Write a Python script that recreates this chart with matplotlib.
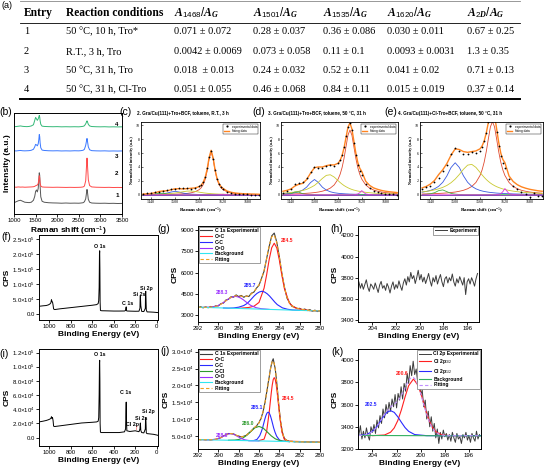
import matplotlib
matplotlib.use("Agg")
import matplotlib.pyplot as plt

plt.rcParams["font.family"] = ["Liberation Sans", "DejaVu Sans"]
plt.rcParams["mathtext.fontset"] = "custom"
plt.rcParams["mathtext.rm"] = "Liberation Sans"
plt.rcParams["mathtext.it"] = "Liberation Serif:italic:bold"
plt.rcParams["mathtext.bf"] = "Liberation Sans:bold"
plt.rcParams["axes.linewidth"] = 0.7
plt.rcParams["legend.fancybox"] = False

# ---------------- (a) table ----------------
table_cols = ["Entry", "Reaction conditions",
              r"$\mathit{A_{1468}/A_{G}}$", r"$\mathit{A_{1501}/A_{G}}$",
              r"$\mathit{A_{1535}/A_{G}}$", r"$\mathit{A_{1620}/A_{G}}$",
              r"$\mathit{A_{2D}/A_{G}}$"]
table_rows = [
    ["1", "50 °C, 10 h, Tro*", "0.071 ± 0.072", "0.28 ± 0.037", "0.36 ± 0.086", "0.030 ± 0.011", "0.67 ± 0.25"],
    ["2", "R.T., 3 h, Tro", "0.0042 ± 0.0069", "0.073 ± 0.058", "0.11 ± 0.1", "0.0093 ± 0.0031", "1.3 ± 0.35"],
    ["3", "50 °C, 31 h, Tro", "0.018  ± 0.013", "0.24 ± 0.032", "0.52 ± 0.11", "0.041 ± 0.02", "0.71 ± 0.13"],
    ["4", "50 °C, 31 h, Cl-Tro", "0.051 ± 0.055", "0.46 ± 0.068", "0.84 ± 0.11", "0.015 ± 0.019", "0.37 ± 0.14"],
]

# ---------------- (b) Raman spectra ----------------
b_shift = [1000, 1050, 1100, 1150, 1200, 1250, 1300, 1350, 1400, 1450,
           1480, 1500, 1520, 1540, 1560, 1575, 1585, 1595, 1605, 1620,
           1650, 1700, 1800, 1900, 2000, 2100, 2200, 2300, 2400, 2500,
           2550, 2600, 2630, 2660, 2680, 2690, 2700, 2720, 2750, 2800,
           2900, 3000, 3100, 3200, 3300, 3400, 3500]
b_entry1 = [11.5, 12.5, 13.5, 14.0, 13.0, 12.0, 11.8, 11.6, 12.0, 14.0,
            18.0, 23.0, 24.5, 22.5, 26.0, 35.0, 42.0, 39.5, 28.0, 17.5,
            13.0, 12.0, 11.5, 11.3, 11.2, 11.0, 11.2, 11.0, 11.1, 11.0,
            11.2, 11.5, 12.5, 15.5, 22.0, 25.0, 22.5, 15.0, 12.0, 11.2,
            11.0, 10.9, 11.0, 10.8, 10.9, 10.7, 10.8]
b_entry2 = [27.5, 27.3, 27.6, 27.4, 27.5, 27.3, 27.4, 27.5, 27.6, 27.8,
            28.2, 28.8, 29.2, 29.5, 31.0, 35.0, 39.0, 37.0, 31.5, 28.5,
            27.6, 27.4, 27.3, 27.2, 27.3, 27.2, 27.1, 27.2, 27.1, 27.2,
            27.3, 27.6, 28.5, 34.0, 50.0, 57.0, 50.5, 35.0, 29.0, 27.6,
            27.3, 27.2, 27.1, 27.2, 27.0, 27.1, 27.0]
b_entry3 = [64.5, 64.3, 64.6, 64.8, 64.5, 64.4, 64.5, 64.6, 65.0, 66.0,
            68.5, 71.0, 70.5, 69.5, 71.5, 76.0, 81.0, 79.0, 72.5, 67.5,
            65.2, 64.8, 64.5, 64.4, 64.5, 64.3, 64.4, 64.3, 64.5, 64.4,
            64.6, 65.0, 66.0, 70.0, 75.0, 77.0, 74.5, 68.5, 65.5, 64.6,
            64.4, 64.3, 64.4, 64.2, 64.3, 64.2, 64.3]
b_entry4 = [89.0, 89.2, 89.5, 89.8, 89.4, 89.2, 89.1, 89.3, 89.8, 91.0,
            95.5, 98.5, 97.0, 95.5, 97.0, 99.0, 100.5, 99.0, 95.0, 91.5,
            89.6, 89.3, 89.1, 89.0, 89.1, 88.9, 89.0, 88.9, 89.0, 88.9,
            89.1, 89.4, 90.0, 92.0, 94.0, 95.0, 94.0, 91.5, 89.8, 89.2,
            89.0, 88.9, 89.0, 88.8, 88.9, 88.8, 88.9]
b_labels = ["1", "2", "3", "4"]
b_label_y = [19, 41, 59, 91]

# ---------------- (c)-(e) Raman fits ----------------
raman_shift = [1420, 1430, 1440, 1450, 1460, 1470, 1480, 1490, 1500, 1510,
               1520, 1530, 1540, 1550, 1560, 1565, 1570, 1575, 1580, 1585,
               1590, 1595, 1600, 1605, 1610, 1615, 1620, 1630, 1640, 1650,
               1660, 1670, 1680, 1690, 1700, 1710]
raman_titles = ["2. Gra/Cu(111)+Tro+BCF, toluene, R.T., 3 h",
                "3. Gra/Cu(111)+Tro+BCF, toluene, 50 °C, 31 h",
                "4. Gra/Cu(111)+Cl-Tro+BCF, toluene, 50 °C, 31 h"]
raman_base = [0.0, 0.0, 0.0]

c_exp = [0.15, 0.2, 0.25, 0.35, 0.45, 0.55, 0.65, 0.8, 0.9, 0.95,
         1.0, 0.95, 0.9, 1.0, 1.2, 1.45, 1.85, 2.6, 3.8, 5.4,
         6.3, 5.2, 3.5, 2.3, 1.5, 1.1, 0.85, 0.45, 0.25, 0.15,
         0.1, 0.05, 0.05, 0.0, 0.0, 0.0]
c_fit = [0.11, 0.14, 0.2, 0.3, 0.47, 0.55, 0.58, 0.72, 0.87, 0.87,
         0.85, 0.88, 0.94, 0.99, 1.17, 1.38, 1.77, 2.46, 3.65, 5.36,
         6.39, 5.31, 3.55, 2.31, 1.58, 1.16, 0.91, 0.54, 0.36, 0.26,
         0.2, 0.16, 0.13, 0.11, 0.1, 0.08]
c_g = [0.026, 0.03, 0.033, 0.038, 0.045, 0.052, 0.062, 0.075, 0.09, 0.115,
       0.15, 0.2, 0.29, 0.44, 0.73, 1.0, 1.44, 2.17, 3.4, 5.14,
       6.2, 5.14, 3.4, 2.17, 1.44, 1.0, 0.73, 0.44, 0.29, 0.2,
       0.15, 0.115, 0.09, 0.075, 0.062, 0.052]
c_1501 = [0.03, 0.04, 0.05, 0.07, 0.1, 0.15, 0.25, 0.4, 0.5, 0.4,
          0.25, 0.15, 0.1, 0.07, 0.05, 0.045, 0.04, 0.035, 0.03, 0.03,
          0.025, 0.025, 0.02, 0.02, 0.02, 0.015, 0.015, 0.01, 0.01, 0.01,
          0.01, 0.01, 0.01, 0.01, 0.01, 0.01]
c_1535 = [0.045, 0.053, 0.063, 0.076, 0.094, 0.118, 0.148, 0.196, 0.256, 0.345,
          0.445, 0.53, 0.546, 0.483, 0.385, 0.336, 0.292, 0.252, 0.22, 0.191,
          0.167, 0.146, 0.129, 0.116, 0.102, 0.093, 0.082, 0.068, 0.057, 0.047,
          0.042, 0.036, 0.03, 0.027, 0.025, 0.021]
c_1468 = [0.01, 0.02, 0.05, 0.12, 0.23, 0.23, 0.12, 0.05, 0.02, 0.01,
          0.01, 0.01, 0.01, 0.01, 0.01, 0.01, 0.01, 0.01, 0.01, 0.01,
          0.01, 0.01, 0.01, 0.01, 0.01, 0.01, 0.01, 0.01, 0.01, 0.01,
          0.01, 0.01, 0.01, 0.01, 0.01, 0.01]
c_1620 = [0, 0, 0, 0, 0, 0, 0, 0, 0, 0,
          0, 0, 0, 0, 0, 0, 0, 0, 0, 0,
          0, 0, 0, 0, 0.02, 0.05, 0.08, 0.02, 0, 0,
          0, 0, 0, 0, 0, 0]

d_exp = [0.3, 0.5, 0.9, 1.5, 1.7, 1.9, 2.4, 3.3, 3.95, 3.85,
         3.8, 4.1, 4.25, 4.2, 4.6, 5.0, 5.7, 6.9, 8.4, 9.8,
         10.3, 9.3, 7.5, 5.7, 4.3, 3.4, 2.9, 1.6, 1.0, 0.6,
         0.35, 0.2, 0.1, 0.05, 0.05, 0.0]
d_fit = [0.51, 0.64, 0.83, 1.25, 1.51, 1.64, 2.18, 3.11, 3.9, 4.0,
         3.99, 4.18, 4.3, 4.29, 4.53, 4.92, 5.63, 6.73, 8.22, 9.71,
         10.3, 9.45, 7.7, 5.98, 4.63, 3.8, 3.35, 1.95, 1.35, 0.99,
         0.79, 0.63, 0.52, 0.44, 0.38, 0.32]
d_g = [0.093, 0.105, 0.12, 0.135, 0.155, 0.18, 0.22, 0.26, 0.32, 0.4,
       0.52, 0.69, 0.96, 1.42, 2.26, 2.94, 3.9, 5.23, 6.91, 8.56,
       9.3, 8.56, 6.91, 5.23, 3.9, 2.94, 2.26, 1.42, 0.96, 0.69,
       0.52, 0.4, 0.32, 0.26, 0.22, 0.18]
d_1501 = [0.13, 0.17, 0.22, 0.3, 0.44, 0.68, 1.1, 1.76, 2.2, 1.76,
          1.1, 0.68, 0.44, 0.3, 0.22, 0.19, 0.17, 0.15, 0.13, 0.12,
          0.1, 0.095, 0.085, 0.08, 0.07, 0.065, 0.06, 0.05, 0.045, 0.04,
          0.035, 0.03, 0.03, 0.025, 0.022, 0.02]
d_1535 = [0.24, 0.28, 0.33, 0.4, 0.5, 0.62, 0.78, 1.04, 1.35, 1.82,
          2.35, 2.79, 2.88, 2.55, 2.03, 1.77, 1.54, 1.33, 1.16, 1.01,
          0.88, 0.77, 0.68, 0.61, 0.54, 0.49, 0.43, 0.36, 0.3, 0.25,
          0.22, 0.19, 0.16, 0.14, 0.13, 0.11]
d_1468 = [0.04, 0.07, 0.15, 0.4, 0.4, 0.15, 0.07, 0.04, 0.02, 0.01,
          0.01, 0.01, 0.01, 0.01, 0.01, 0.01, 0.01, 0.01, 0.01, 0.01,
          0.01, 0.01, 0.01, 0.01, 0.01, 0.01, 0.01, 0.01, 0.01, 0.01,
          0.01, 0.01, 0.01, 0.01, 0.01, 0.01]
d_1620 = [0, 0, 0, 0, 0, 0, 0, 0, 0, 0,
          0, 0, 0, 0, 0, 0, 0, 0, 0, 0,
          0, 0, 0, 0.06, 0.12, 0.3, 0.6, 0.12, 0.04, 0,
          0, 0, 0, 0, 0, 0]

e_exp = [0.8, 1.1, 1.2, 1.8, 2.4, 3.4, 4.3, 5.8, 6.7, 6.3,
         5.8, 5.9, 6.1, 6.0, 6.3, 6.8, 7.7, 8.9, 10.4, 11.5,
         12.0, 11.0, 9.0, 7.0, 5.5, 4.5, 3.9, 2.2, 1.3, 0.8,
         0.4, 0.1, -0.3, 0.3, -0.1, -0.2]
e_fit = [0.99, 1.2, 1.54, 2.06, 2.9, 3.6, 4.5, 5.7, 6.6, 6.5,
         6.2, 6.1, 6.2, 6.3, 6.6, 7.02, 7.73, 8.87, 10.37, 11.82,
         12.34, 11.39, 9.48, 7.55, 6.0, 5.07, 4.62, 2.7, 1.91, 1.45,
         1.15, 0.95, 0.79, 0.68, 0.58, 0.51]
e_g = [0.116, 0.13, 0.15, 0.17, 0.2, 0.23, 0.27, 0.33, 0.4, 0.51,
       0.65, 0.87, 1.2, 1.77, 2.78, 3.58, 4.7, 6.2, 8.02, 9.75,
       10.5, 9.75, 8.02, 6.2, 4.7, 3.58, 2.78, 1.77, 1.2, 0.87,
       0.65, 0.51, 0.4, 0.33, 0.27, 0.23]
e_1501 = [0.38, 0.48, 0.63, 0.86, 1.22, 1.8, 2.72, 3.92, 4.6, 3.92,
          2.72, 1.8, 1.22, 0.86, 0.63, 0.55, 0.48, 0.43, 0.38, 0.34,
          0.31, 0.28, 0.25, 0.23, 0.21, 0.19, 0.18, 0.15, 0.13, 0.115,
          0.1, 0.09, 0.08, 0.07, 0.065, 0.06]
e_1535 = [0.42, 0.49, 0.585, 0.705, 0.86, 1.07, 1.35, 1.74, 2.26, 2.92,
          3.67, 4.26, 4.37, 3.94, 3.22, 2.85, 2.51, 2.2, 1.93, 1.69,
          1.49, 1.32, 1.17, 1.05, 0.94, 0.845, 0.76, 0.63, 0.53, 0.45,
          0.38, 0.33, 0.29, 0.26, 0.23, 0.2]
e_1468 = [0.05, 0.08, 0.15, 0.3, 0.6, 0.7, 0.45, 0.2, 0.1, 0.05,
          0.02, 0.02, 0.02, 0.02, 0.02, 0.02, 0.02, 0.02, 0.02, 0.02,
          0.02, 0.02, 0.02, 0.02, 0.02, 0.02, 0.02, 0.02, 0.02, 0.02,
          0.02, 0.02, 0.02, 0.02, 0.02, 0.02]
e_1620 = [0, 0, 0, 0, 0, 0, 0, 0, 0, 0,
          0, 0, 0, 0, 0, 0, 0, 0, 0, 0,
          0, 0, 0.02, 0.07, 0.15, 0.45, 0.9, 0.15, 0.05, 0,
          0, 0, 0, 0, 0, 0]

# ---------------- (f), (i) XPS survey ----------------
survey_be = [1096, 1060, 1030, 1010, 995, 985, 980, 975, 970, 965,
             960, 950, 900, 850, 800, 750, 700, 650, 600, 560,
             545, 540, 536, 533, 531, 529, 527, 524, 520, 510,
             480, 450, 400, 350, 300, 290, 286, 284, 282, 278,
             250, 200, 165, 156, 154, 152, 148, 140, 120, 106,
             104, 102, 100, 97, 90, 60, 30, 0, -12]
f_cps = [26000, 27500, 28500, 30500, 33500, 38000, 48000, 42000, 40000, 30000,
         17000, 15000, 17500, 19500, 21500, 23500, 25500, 27500, 29500, 31500,
         35000, 45000, 90000, 200000, 212000, 150000, 40000, 12500, 11500, 11000,
         10800, 10500, 10000, 10000, 10200, 12000, 21000, 24000, 13000, 10200,
         9800, 9300, 9500, 20000, 58000, 62000, 28000, 9000, 8200, 19000,
         70000, 76000, 55000, 14000, 7200, 6800, 6200, 5200, 4800]
i_cps = [22000, 23000, 24000, 25000, 26000, 27000, 29500, 27000, 28000, 24000,
         16000, 15500, 16500, 17500, 18500, 19500, 20500, 21000, 21500, 22000,
         23000, 28000, 60000, 105000, 109000, 80000, 20000, 8000, 7000, 7000,
         7000, 7000, 7000, 7000, 8000, 12000, 38000, 50000, 28000, 9500,
         8500, 9500, 8200, 12000, 19000, 20500, 10000, 7000, 6500, 12000,
         26000, 28000, 22000, 6500, 5500, 5000, 4500, 3500, 3000]
f_yticks = [0, 50000, 100000, 150000, 200000, 250000]
f_ylabels = ["0.0", "5.0×10$^4$", "1.0×10$^5$", "1.5×10$^5$", "2.0×10$^5$", "2.5×10$^5$"]
i_yticks = [0, 20000, 40000, 60000, 80000, 100000, 120000]
i_ylabels = ["0.0", "2.0×10$^4$", "4.0×10$^4$", "6.0×10$^4$", "8.0×10$^4$", "1.0×10$^5$", "1.2×10$^5$"]
f_peaks = [("O 1s", 532, 228000), ("C 1s", 275, 34000), ("Si 2s", 162, 67000), ("Si 2p", 100, 86000)]
i_peaks = [("O 1s", 532, 117000), ("C 1s", 285, 64000), ("Cl 2p", 222, 18000),
           ("Si 2s", 142, 27000), ("Si 2p", 80, 37000)]

# ---------------- (g) C 1s, Tro ----------------
g_be = [292.0, 291.75, 291.5, 291.25, 291.0, 290.75, 290.5, 290.25, 290.0, 289.75,
        289.5, 289.25, 289.0, 288.75, 288.5, 288.25, 288.0, 287.75, 287.5, 287.25,
        287.0, 286.75, 286.5, 286.25, 286.0, 285.75, 285.5, 285.25, 285.0, 284.75,
        284.5, 284.25, 284.0, 283.75, 283.5, 283.25, 283.0, 282.75, 282.5, 282.25,
        282.0, 281.75, 281.5, 281.25, 281.0, 280.75, 280.5, 280.25, 280.0]
g_exp = [3520, 3590, 3500, 3575, 3510, 3600, 3545, 3650, 3640, 3800,
         3840, 4060, 4110, 4290, 4260, 4420, 4300, 4380, 4250, 4350,
         4300, 4540, 4620, 4900, 5100, 5600, 6100, 7000, 7850, 8600,
         8800, 8150, 7100, 5950, 4990, 4200, 3880, 3600, 3560, 3440,
         3470, 3360, 3420, 3310, 3380, 3260, 3340, 3240, 3300]
g_fit = [3550, 3544, 3543, 3542, 3548, 3559, 3580, 3612, 3675, 3754,
         3877, 4007, 4143, 4246, 4321, 4359, 4344, 4328, 4316, 4311,
         4358, 4492, 4661, 4867, 5143, 5555, 6157, 6981, 7895, 8533,
         8653, 8128, 7149, 5960, 4958, 4256, 3849, 3637, 3530, 3472,
         3419, 3389, 3361, 3341, 3326, 3310, 3300, 3292, 3285]
g_cc_be = [288, 287, 286.5, 286, 285.5, 285.25, 285, 284.75, 284.5, 284.25,
           284, 283.75, 283.5, 283, 282.5, 282, 281, 280]
g_cc = [3465, 3530, 3615, 3885, 4900, 5840, 6920, 7760, 8080, 7745,
        6895, 5805, 4860, 3815, 3525, 3420, 3302, 3280]
g_c_c_be = [289.5, 289, 288.5, 288, 287.5, 287.2, 286.95, 286.7, 286.45, 286.2,
            285.95, 285.7, 285.45, 285.2, 284.95, 284.7, 284.45, 284.2, 283.7, 283.2,
            282.7, 282]
g_c_c = [3494, 3482, 3496, 3549, 3665, 3798, 3969, 4168, 4365, 4525,
         4633, 4678, 4622, 4502, 4331, 4123, 3913, 3730, 3503, 3403,
         3354, 3325]
g_co_be = [291.5, 291, 290.5, 290, 289.55, 289.3, 289.05, 288.8, 288.55, 288.3,
           288.05, 287.8, 287.55, 287.3, 287.05, 286.8, 286.3, 285.8, 285]
g_co = [3539, 3544, 3576, 3675, 3852, 3982, 4112, 4218, 4288, 4317,
        4277, 4196, 4079, 3937, 3796, 3671, 3516, 3444, 3392]
g_bg_be = [292, 280]
g_bg = [3550, 3280]
g_peaks = [("284.5", 283.2, 8300, "#ff2020"), ("285.7", 286.9, 5100, "#2a2aff"),
           ("288.3", 289.6, 4580, "#9b30ff")]

# ---------------- (h) Cl 2p, Tro ----------------
hk_be = [205.125, 205.0, 204.875, 204.75, 204.625, 204.5, 204.375, 204.25, 204.125, 204.0,
         203.875, 203.75, 203.625, 203.5, 203.375, 203.25, 203.125, 203.0, 202.875, 202.75,
         202.625, 202.5, 202.375, 202.25, 202.125, 202.0, 201.875, 201.75, 201.625, 201.5,
         201.375, 201.25, 201.125, 201.0, 200.875, 200.75, 200.625, 200.5, 200.375, 200.25,
         200.125, 200.0, 199.875, 199.75, 199.625, 199.5, 199.375, 199.25, 199.125, 199.0,
         198.875, 198.75, 198.625, 198.5, 198.375, 198.25, 198.125, 198.0, 197.875, 197.75,
         197.625, 197.5, 197.375, 197.25, 197.125, 197.0, 196.875, 196.75, 196.625, 196.5,
         196.375, 196.25, 196.125, 196.0, 195.875, 195.75, 195.625, 195.5, 195.375, 195.25,
         195.125]
h_cps = [3760, 3700, 3745, 3690, 3735, 3780, 3710, 3670, 3740, 3720,
         3690, 3750, 3705, 3660, 3730, 3765, 3700, 3725, 3680, 3745,
         3710, 3655, 3720, 3760, 3690, 3735, 3700, 3770, 3720, 3680,
         3750, 3790, 3730, 3810, 3760, 3850, 3790, 3820, 3745, 3800,
         3870, 3780, 3830, 3760, 3805, 3745, 3790, 3840, 3770, 3720,
         3800, 3760, 3820, 3740, 3790, 3830, 3760, 3715, 3790, 3810,
         3750, 3800, 3770, 3835, 3760, 3720, 3790, 3750, 3810, 3770,
         3730, 3800, 3640, 3760, 3790, 3740, 3800, 3765, 3720, 3790,
         3840]

# ---------------- (j) C 1s, Cl-Tro ----------------
j_be = [292.0, 291.75, 291.5, 291.25, 291.0, 290.75, 290.5, 290.25, 290.0, 289.75,
        289.5, 289.25, 289.0, 288.75, 288.5, 288.25, 288.0, 287.75, 287.5, 287.25,
        287.0, 286.75, 286.5, 286.25, 286.1, 286.0, 285.9, 285.8, 285.7, 285.6,
        285.5, 285.4, 285.3, 285.2, 285.1, 285.0, 284.9, 284.8, 284.7, 284.6,
        284.5, 284.4, 284.3, 284.2, 284.1, 284.0, 283.9, 283.8, 283.7, 283.6,
        283.5, 283.25, 283.0, 282.75, 282.5, 282.25, 282.0, 281.75, 281.5, 281.25,
        281.0, 280.75, 280.5, 280.25, 280.0]
j_exp = [3950, 3830, 3900, 3810, 3880, 3800, 3920, 3960, 4250, 4450,
         4980, 5280, 5700, 5650, 5600, 5150, 4950, 4700, 4880, 5150,
         5850, 6480, 7350, 7900, 8600, 8850, 9650, 10100, 11200, 12100,
         13700, 15000, 17000, 18650, 20700, 22400, 24500, 25900, 27200, 27900,
         26300, 24900, 22100, 19200, 15600, 12650, 9750, 7900, 6100, 5100,
         4200, 3650, 3350, 3380, 3220, 3300, 3190, 3260, 3150, 3240,
         3120, 3200, 3090, 3160, 3080]
j_fit = [3900, 3884, 3868, 3853, 3844, 3849, 3888, 3990, 4189, 4504,
         4912, 5323, 5625, 5701, 5538, 5220, 4907, 4741, 4829, 5194,
         5794, 6530, 7259, 7984, 8498, 8927, 9530, 10182, 11074, 12182,
         13567, 15116, 16902, 18751, 20543, 22474, 24369, 25976, 27016, 27235,
         26475, 24780, 22234, 19043, 15712, 12530, 9855, 7817, 6204, 5006,
         4293, 3592, 3404, 3322, 3270, 3250, 3234, 3217, 3200, 3184,
         3167, 3150, 3134, 3117, 3100]
j_cc_be = [286, 285.5, 285.25, 285, 284.9, 284.8, 284.7, 284.6, 284.5, 284.4,
           284.3, 284.2, 284.1, 284, 283.9, 283.75, 283.5, 283.25, 283, 282, 280]
j_cc = [3595, 4034, 6285, 11939, 14767, 17595, 20045, 21740, 22300, 21726,
        20019, 17555, 14713, 11872, 9408, 6185, 3900, 3506, 3395, 3328, 3100]
j_c_c_be = [287, 286.5, 286.2, 285.93, 285.77, 285.65, 285.54, 285.43, 285.32, 285.21,
            285.1, 284.99, 284.88, 284.77, 284.66, 284.55, 284.43, 284.27, 284.0, 283.7, 283]
j_c_c = [3567, 3620, 3944, 5045, 6238, 7348, 8631, 9912, 11023, 11790,
         12040, 11775, 10993, 9868, 8571, 7273, 6147, 4933, 3797, 3433, 3300]
j_ccl_be = [289, 288.4, 288, 287.6, 287.2, 286.8, 286.4, 286, 285.6, 285.2,
            284.8, 284.4, 284, 283.6, 283]
j_ccl = [3700, 3746, 3914, 4338, 5171, 6306, 7397, 7800, 7344, 6199,
         5011, 4125, 3647, 3426, 3300]
j_co_be = [291.5, 290.9, 290.55, 290.2, 289.85, 289.5, 289.15, 288.8, 288.45, 288.1,
           287.75, 287.4, 287.05, 286.7, 286]
j_co = [3867, 3843, 3875, 4020, 4357, 4914, 5470, 5687, 5423, 4820,
        4217, 3834, 3640, 3563, 3500]
j_bg_be = [292, 280]
j_bg = [3900, 3100]
j_yticks = [5000, 10000, 15000, 20000, 25000, 30000]
j_ylabels = ["5.0×10$^3$", "1.0×10$^4$", "1.5×10$^4$", "2.0×10$^4$", "2.5×10$^4$", "3.0×10$^4$"]
j_peaks = [("284.5", 283.1, 16000, "#ff2020"), ("285.1", 286.15, 13400, "#2a2aff"),
           ("286.0", 287.1, 8600, "#2e9b2e"), ("288.8", 289.65, 5200, "#9b30ff")]

# ---------------- (k) Cl 2p, Cl-Tro ----------------
k_exp = [3330, 3410, 3290, 3360, 3300, 3390, 3320, 3280, 3400, 3350,
         3420, 3340, 3460, 3390, 3500, 3430, 3560, 3480, 3600, 3520,
         3620, 3540, 3650, 3580, 3690, 3570, 3700, 3640, 3760, 3650,
         3790, 3720, 3880, 3790, 3950, 3860, 3990, 3870, 3920, 3800,
         3840, 3690, 3730, 3580, 3640, 3470, 3540, 3400, 3490, 3360,
         3430, 3300, 3380, 3250, 3350, 3290, 3370, 3310, 3340, 3280,
         3330, 3270, 3350, 3300, 3260, 3340, 3290, 3310, 3250, 3330,
         3300, 3350, 3280, 3320, 3260, 3340, 3300, 3270, 3360, 3290,
         3330]
k_fit = [3321, 3322, 3323, 3324, 3327, 3330, 3334, 3341, 3349, 3359,
         3371, 3386, 3404, 3424, 3445, 3467, 3490, 3511, 3531, 3549,
         3565, 3578, 3589, 3599, 3609, 3622, 3636, 3655, 3677, 3704,
         3732, 3762, 3791, 3816, 3834, 3844, 3844, 3834, 3812, 3781,
         3742, 3698, 3649, 3601, 3554, 3510, 3470, 3436, 3408, 3385,
         3366, 3353, 3342, 3335, 3330, 3326, 3324, 3322, 3321, 3320,
         3320, 3320, 3320, 3320, 3320, 3320, 3320, 3320, 3320, 3320,
         3320, 3320, 3320, 3320, 3320, 3320, 3320, 3320, 3320, 3320,
         3320]
k_32_be = [204, 203, 202.5, 202.2, 201.9, 201.6, 201.3, 201, 200.6, 200.2,
           199.9, 199.6, 199.3, 199, 198.7, 198.2, 197.5, 196, 195.1]
k_32 = [3320, 3326, 3351, 3389, 3456, 3553, 3668, 3770, 3830, 3770,
        3668, 3553, 3456, 3389, 3351, 3326, 3320, 3320, 3320]
k_12_be = [205.2, 204.5, 204, 203.7, 203.4, 203.1, 202.8, 202.5, 202.2, 201.9,
           201.6, 201.3, 201, 200.5, 199.5, 195]
k_12 = [3322, 3330, 3359, 3393, 3440, 3490, 3530, 3545, 3530, 3490,
        3440, 3393, 3359, 3330, 3320, 3320]
k_bg_be = [205.2, 195.0]
k_bg = [3322, 3318]
k_peaks = [("200.6", 201.5, 3880, "#ff2020"), ("202.5", 204.1, 3600, "#2a2aff")]

# ---------------- colours ----------------
C_EXP = "#3c3c3c"
C_RED = "#ff2020"
C_BLUE = "#2a2aff"
C_PURPLE = "#9b30ff"
C_CYAN = "#30e6f0"
C_ORANGE = "#f0a020"
C_GREEN = "#2e9b2e"

W, H = 546, 469
fig = plt.figure(figsize=(W / 100, H / 100), dpi=100)


def px_axes(l, t, r, b):
    return fig.add_axes([l / W, 1 - b / H, (r - l) / W, (b - t) / H])


def tidy(ax, size=4.3, direction="out"):
    ax.tick_params(direction=direction, length=2, width=0.6, labelsize=size, pad=1)
    for s in ax.spines.values():
        s.set_linewidth(0.7)


# ---- (b) ----
ax = px_axes(14, 113, 122, 214)
for ys, col in zip([b_entry1, b_entry2, b_entry3, b_entry4],
                   ["#555555", "#ff4848", "#3a78ff", "#33b877"]):
    ax.plot(b_shift, ys, color=col, lw=0.7)
for lab, yy in zip(b_labels, b_label_y):
    ax.text(3380, yy, lab, fontsize=4.5, fontweight="bold", ha="center", va="center")
ax.set_xlim(1000, 3500)
ax.set_ylim(0, 103)
ax.set_yticks([])
ax.set_xticks([1000, 1500, 2000, 2500, 3000, 3500])
tidy(ax, 4.3)
ax.set_xlabel("Raman shift (cm$^{-1}$)", fontsize=6, fontweight="bold", labelpad=1)
ax.set_ylabel("Intensity (a.u.)", fontsize=6, fontweight="bold", labelpad=2)

# ---- (c)-(e) ----
raman_sets = [
    ((141, 122, 260, 199), c_exp, c_fit, c_g, c_1501, c_1535, c_1468, c_1620),
    ((281, 122, 398, 199), d_exp, d_fit, d_g, d_1501, d_1535, d_1468, d_1620),
    ((420, 122, 543, 199), e_exp, e_fit, e_g, e_1501, e_1535, e_1468, e_1620),
]
for n, (rect, ex, ft, gg, b1, b2, b3, b4) in enumerate(raman_sets):
    ax = px_axes(*rect)
    ax.plot(raman_shift, gg, color="#e04a30", lw=0.6)
    ax.plot(raman_shift, b1, color="#3a5ae0", lw=0.6)
    ax.plot(raman_shift, b2, color="#c9c930", lw=0.6)
    ax.plot(raman_shift, b3, color="#44b044", lw=0.6)
    ax.plot(raman_shift, b4, color="#e030e0", lw=0.6)
    ax.plot([raman_shift[0], raman_shift[-1]], [raman_base[n], raman_base[n]],
            color="#7a30b0", lw=0.6)
    l_fit, = ax.plot(raman_shift, ft, color="#ff8420", lw=1.0)
    l_exp, = ax.plot(raman_shift, ex, "o", ms=1.3, mew=0, color="black")
    ax.set_xlim(1415, 1712)
    ax.set_ylim(-0.6, 10.45)
    ax.set_xticks([1440, 1500, 1560, 1620, 1680])
    ax.set_xticklabels(["1440", "1500", "1560", "1620", "1680"], fontfamily="Liberation Serif")
    ax.set_yticks([0, 2, 4, 6, 8, 10])
    ax.set_yticklabels(["0", "2", "4", "6", "8", "10"], fontfamily="Liberation Serif")
    ax.tick_params(direction="in", length=1.5, width=0.4, labelsize=3, pad=1)
    for s in ax.spines.values():
        s.set_linewidth(0.6)
    ax.set_xlabel("Raman shift (cm$^{-1}$)", fontsize=3.6, fontweight="bold",
                  fontfamily="Liberation Serif", labelpad=1)
    ax.set_ylabel("Normalized intensity (a.u.)", fontsize=3.1, fontweight="bold",
                  fontfamily="Liberation Serif", labelpad=1)
    leg = ax.legend([l_exp, l_fit], ["experimental data", "fitting data"], loc="upper right",
                    fontsize=2.3, handlelength=1.8, borderpad=0.3, labelspacing=0.2,
                    markerscale=1.2, framealpha=1, edgecolor="black")
    leg.get_frame().set_linewidth(0.3)

# ---- (f), (i) survey ----
survey_sets = [
    ((39, 235, 158, 320), f_cps, (-20000, 265000), f_yticks, f_ylabels, f_peaks),
    ((39, 349, 158, 446), i_cps, (-12000, 125000), i_yticks, i_ylabels, i_peaks),
]
for rect, cps, ylim, yt, yl, peaks in survey_sets:
    ax = px_axes(*rect)
    ax.plot(survey_be, cps, color="black", lw=0.7)
    for name, xx, yy in peaks:
        ax.text(xx, yy, name, fontsize=3.8, fontweight="bold", ha="center", va="center")
    ax.set_xlim(1096, -12)
    ax.set_ylim(*ylim)
    ax.set_xticks([1000, 800, 600, 400, 200, 0])
    ax.set_yticks(yt)
    ax.set_yticklabels(yl)
    tidy(ax, 4.3)
    ax.set_xlabel("Binding Energy (eV)", fontsize=6, fontweight="bold", labelpad=1)
    ax.set_ylabel("CPS", fontsize=6, fontweight="bold", labelpad=1)
ax.text(190, 12500, "/", color="red", fontsize=3.5, ha="center", va="center")

legend_kw = dict(prop={"size": 3.6, "weight": "bold"}, handlelength=2.4, labelspacing=0.15,
                 borderpad=0.3, handletextpad=0.5, borderaxespad=0.15, framealpha=1,
                 edgecolor="#777777")

# ---- (g) ----
ax = px_axes(198, 226, 320, 322)
ax.plot(g_be, g_exp, color=C_EXP, lw=0.8, label="C 1s Experimental")
ax.plot(g_cc_be, g_cc, color=C_RED, lw=0.8, label="C=C")
ax.plot(g_c_c_be, g_c_c, color=C_BLUE, lw=0.8, label="C-C")
ax.plot(g_co_be, g_co, color=C_PURPLE, lw=0.8, label="C=O")
ax.plot(g_bg_be, g_bg, color=C_CYAN, lw=0.8, label="Background")
ax.plot(g_be, g_fit, color=C_ORANGE, lw=0.8, ls=(0, (3, 2)), label="Fitting")
for txt, xx, yy, col in g_peaks:
    ax.text(xx, yy, txt, color=col, fontsize=3.6, fontweight="bold", ha="center", va="center")
ax.set_xlim(292, 280)
ax.set_ylim(2500, 9300)
ax.set_xticks([292, 290, 288, 286, 284, 282, 280])
ax.set_yticks([3000, 4500, 6000, 7500, 9000])
tidy(ax)
ax.legend(loc="upper left", **legend_kw).get_frame().set_linewidth(0.5)
ax.set_xlabel("Binding Energy (eV)", fontsize=6, fontweight="bold", labelpad=1)
ax.set_ylabel("CPS", fontsize=6, fontweight="bold", labelpad=1)

# ---- (h) ----
ax = px_axes(358, 226, 479, 322)
ax.plot(hk_be, h_cps, color=C_EXP, lw=0.7, label="Experiment")
ax.set_xlim(205.2, 195.0)
ax.set_ylim(3380, 4290)
ax.set_xticks([204, 202, 200, 198, 196])
ax.set_yticks([3400, 3600, 3800, 4000, 4200])
tidy(ax)
ax.legend(loc="upper right", **legend_kw).get_frame().set_linewidth(0.5)
ax.set_xlabel("Binding Energy (eV)", fontsize=6, fontweight="bold", labelpad=1)
ax.set_ylabel("CPS", fontsize=6, fontweight="bold", labelpad=1)

# ---- (j) ----
ax = px_axes(198, 349, 320, 449)
ax.plot(j_be, j_exp, color=C_EXP, lw=0.8, label="C 1s Experimental")
ax.plot(j_cc_be, j_cc, color=C_RED, lw=0.8, label="C=C")
ax.plot(j_c_c_be, j_c_c, color=C_BLUE, lw=0.8, label="C-C")
ax.plot(j_ccl_be, j_ccl, color=C_GREEN, lw=0.8, label="C-Cl")
ax.plot(j_co_be, j_co, color=C_PURPLE, lw=0.8, label="C=O")
ax.plot(j_bg_be, j_bg, color=C_CYAN, lw=0.8, label="Background")
ax.plot(j_be, j_fit, color=C_ORANGE, lw=0.8, ls=(0, (3, 2)), label="Fitting")
for txt, xx, yy, col in j_peaks:
    ax.text(xx, yy, txt, color=col, fontsize=3.6, fontweight="bold", ha="center", va="center")
ax.set_xlim(292, 280)
ax.set_ylim(1100, 30800)
ax.set_xticks([292, 290, 288, 286, 284, 282, 280])
ax.set_yticks(j_yticks)
ax.set_yticklabels(j_ylabels)
tidy(ax)
ax.legend(loc="upper left", **legend_kw).get_frame().set_linewidth(0.5)
ax.set_xlabel("Binding Energy (eV)", fontsize=6, fontweight="bold", labelpad=1)
ax.set_ylabel("CPS", fontsize=6, fontweight="bold", labelpad=1)

# ---- (k) ----
ax = px_axes(358, 349, 481, 449)
ax.plot(hk_be, k_exp, color=C_EXP, lw=0.7, label="Cl 2p Experimental")
ax.plot(k_32_be, k_32, color=C_RED, lw=0.8, label="Cl 2p$_{3/2}$")
ax.plot(k_12_be, k_12, color=C_BLUE, lw=0.8, label="Cl 2p$_{1/2}$")
ax.plot(k_bg_be, k_bg, color="#33b060", lw=0.8, label="Background")
ax.plot(hk_be, k_fit, color="#c090ff", lw=0.8, ls=(0, (3, 2)), label="Fitting")
for txt, xx, yy, col in k_peaks:
    ax.text(xx, yy, txt, color=col, fontsize=3.6, fontweight="bold", ha="center", va="center")
ax.set_xlim(205.2, 195.0)
ax.set_ylim(3200, 4100)
ax.set_xticks([204, 202, 200, 198, 196])
ax.set_yticks([3200, 3400, 3600, 3800, 4000])
tidy(ax)
ax.legend(loc="upper right", **legend_kw).get_frame().set_linewidth(0.5)
ax.set_xlabel("Binding Energy (eV)", fontsize=6, fontweight="bold", labelpad=1)
ax.set_ylabel("CPS", fontsize=6, fontweight="bold", labelpad=1)

# ---- overlay: table, panel letters, Raman titles ----
ov = fig.add_axes([0, 0, 1, 1])
ov.set_xlim(0, W)
ov.set_ylim(H, 0)
ov.axis("off")

col_x = [24, 66, 174, 253, 323, 387, 467]
row_y = [31.7, 51.7, 70.5, 89.3]
ov.plot([20, 520], [1, 1], color="#888888", lw=0.6)
ov.plot([20, 520], [22.8, 22.8], color="black", lw=0.6)
ov.plot([20, 520], [99, 99], color="black", lw=1.4)
for x, txt in zip(col_x, table_cols):
    ov.text(x, 12.7, txt, fontsize=8.3, fontweight="bold", fontfamily="Liberation Serif",
            ha="left", va="center")
for yy, row in zip(row_y, table_rows):
    for x, txt in zip(col_x, row):
        ov.text(x, yy, txt, fontsize=7.5, fontfamily="Liberation Serif", ha="left", va="center")
ov.text(1, 1.5, "(a)", fontsize=6.5, ha="left", va="top")

for lab, x, y in [("(b)", 6, 112), ("(c)", 126, 112), ("(d)", 259, 112), ("(e)", 391, 112),
                  ("(f)", 6, 237), ("(g)", 164, 229), ("(h)", 337, 229),
                  ("(i)", 4, 354), ("(j)", 165, 351), ("(k)", 337, 352)]:
    ov.text(x, y, lab, fontsize=7.5, ha="center", va="center")
for x, txt in zip([137, 268, 398], raman_titles):
    ov.text(x, 113.3, txt, fontsize=3.3, fontweight="bold", ha="left", va="center")

fig.savefig("out.png", dpi=100)
